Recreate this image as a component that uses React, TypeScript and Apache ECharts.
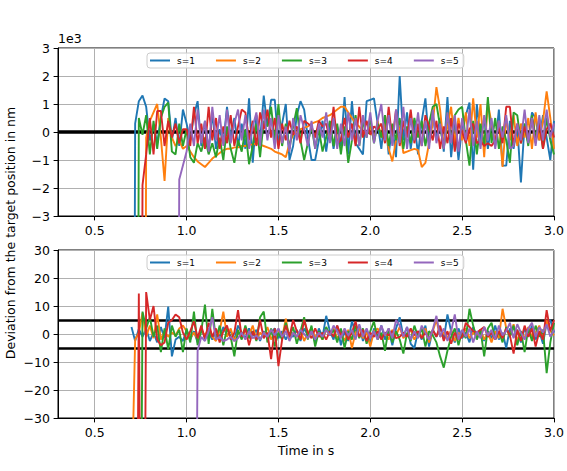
import React, { useEffect, useRef } from "react";
import * as echarts from "echarts";

// sample times (s): 0.70 ... 3.00 in 0.02 s steps
const T_START = 0.7;
const T_STEP = 0.02;
const N = 116;
const TIME: number[] = [];
for (let i = 0; i < N; i++) TIME.push(+(T_START + T_STEP * i).toFixed(2));

const NAMES = ["s=1", "s=2", "s=3", "s=4", "s=5"];
const COLORS = ["#1f77b4", "#ff7f0e", "#2ca02c", "#d62728", "#9467bd"];
const X_TICKS = [0.5, 1.0, 1.5, 2.0, 2.5, 3.0];
const TOP_REF = [0];
const BOTTOM_REF = [5, -5];

// top panel: deviation in units of 1e3 nm
const TOP_S1 = [
  -40, 0.3, 1.1, 1.3, 0.9, -0.3, 0.2, -0.4, 0.5, 1.2,
  1.1, -0.3, 0.5, -0.5, 0.8, 0.3, -0.3, 0.6, 1.1, -0.5,
  0.4, -0.7, 0.7, -0.6, 0.1, -0.4, 0.9, -0.2, 0.5, -0.5,
  0.3, -0.6, 1.2, -1.1, 0.6, -0.3, 1.3, 0.2, 1.15, 1.15,
  -0.4, 0.3, 1.0, -1.0, -0.5, 0.6, 1.1, 0.8, -0.2, -1.0,
  -1.0, -0.3, 0.4, -0.7, 0.3, -0.6, 0.2, -0.5, 1.25, -0.8,
  1.1, -0.4, -0.6, -0.8, 1.1, 1.15, 1.2, 0.3, -0.6, 0.6,
  -0.8, 0.2, -0.9, 2.0, -0.3, 0.7, -0.6, 0.3, -0.8, 0.4,
  1.2, -0.4, 0.6, -0.3, 0.5, -0.7, 1.25, -0.9, 0.4, -1.0,
  0.2, 0.6, 1.05, -1.35, 1.0, -0.3, 0.5, -0.6, 0.3, -0.5,
  0.8, -1.2, -1.2, 0.4, -0.6, 0.2, -1.8, 0.3, -0.4, 0.7,
  0.5, -0.3, 0.6, -0.2, -1.0, 0.4,
];
const TOP_S2 = [
  null, null, null, -40, -0.2, 0.4, 0.7, 1.0, -0.2, -1.75,
  0.5, -0.2, -0.5, -0.3, -0.6, -0.5, -0.7, -0.9, -1.05, -1.15,
  -1.25, -1.1, -0.95, -0.85, -0.75, -0.65, -0.6, -0.6, -0.55, -0.55,
  -0.5, -0.5, -0.45, -0.45, -0.4, -0.45, -0.5, -0.55, -0.6, -0.7,
  -0.75, -0.8, -0.9, -0.4, -0.1, 0.0, 0.1, 0.15, 0.2, 0.3,
  0.35, 0.4, 0.5, 0.55, 0.6, 0.7, 0.8, 0.9, 0.9, 0.7,
  0.5, 0.3, 0.2, 0.0, -0.1, 0.2, -0.3, 0.4, -0.2, 0.3,
  -0.6, -1.05, -0.3, 0.2, -0.75, -0.7, -0.65, -0.6, -0.65, -1.25,
  -1.1, -0.4, 0.3, 1.6, 0.8, -0.5, 0.2, 0.9, -0.4, 0.5,
  -0.3, 0.7, -0.5, 1.2, -0.2, 1.0, -0.9, 1.05, 0.3, -0.4,
  0.4, -1.25, 0.5, -0.3, 0.6, -0.5, 0.3, -0.2, 0.5, -0.6,
  0.7, -0.3, 0.4, 1.45, 0.5, -0.6,
];
const TOP_S3 = [
  null, -40, 0.5, -0.1, 0.6, -0.8, 0.4, -0.6, 0.5, 0.9,
  1.05, -0.7, -0.8, 0.3, -0.5, 0.1, -0.9, -1.1, -0.4, -0.7,
  -0.2, -0.8, -0.4, -0.9, -0.2, -1.0, 0.2, -0.6, -1.1, -0.3,
  -0.7, 0.1, -1.15, -0.5, 0.3, -0.9, 0.4, 0.2, 0.9, -0.3,
  1.0, -0.5, 0.3, -0.6, 0.2, 0.85, -0.3, -1.0, -0.4, 0.2,
  -0.6, 0.1, -0.7, -0.2, 0.4, -0.5, 0.3, -0.8, 0.2, -1.1,
  -0.3, 0.6, -0.5, 0.4, -0.2, 0.5, -0.4, 0.3, -0.2, 0.6,
  -0.5, 0.3, -0.3, 0.5, -0.6, 0.2, -0.4, 0.5, -0.2, 0.4,
  -0.5, 0.3, 0.9, 1.0, 0.2, -0.6, 0.7, -0.3, 0.6, 0.8,
  0.9, -0.3, -1.2, 0.4, -0.8, 0.3, -0.5, 1.25, -0.4, 0.5,
  -0.6, 0.2, -0.3, -1.1, 0.7, 0.6, -0.4, 0.3, -0.5, 0.6,
  -0.2, 0.4, -0.6, 0.5, -0.3, -0.8,
];
const TOP_S4 = [
  null, null, -40, -1.9, -0.8, 0.5, -0.8, 0.75, 0.75, -0.5,
  0.4, -0.2, 0.3, -0.4, 0.1, 0.1, -0.5, 0.9, -0.4, 0.3,
  -0.6, 0.9, -0.3, 0.5, -0.6, 0.2, -0.4, 0.6, -0.5, 0.2,
  0.8, 0.7, -0.3, 0.4, -0.5, 0.7, 0.1, 0.8, -0.2, 0.5,
  -0.6, 0.3, -0.3, 0.4, -0.1, 0.2, -0.4, 0.4, 0.3, 0.2,
  -0.2, 0.4, 0.2, 0.3, -0.3, 0.9, -0.4, -0.3, 0.5, -0.2,
  0.3, -0.5, 0.9, -0.2, 0.4, -0.1, 0.2, 0.1, 0.3, -0.4,
  0.9, -0.3, 0.8, -0.5, 0.4, -0.2, 0.8, -0.4, 0.3, -0.5,
  0.6, 0.2, -0.3, 0.4, -0.6, 0.2, -0.4, 0.5, -0.7, 0.3,
  0.0, -0.4, 0.1, 0.3, -0.4, -0.3, -0.5, -0.4, -0.5, -0.3,
  0.2, -0.4, 0.9, 0.9, -0.5, 0.3, -0.4, 0.2, -0.3, 0.5,
  -0.4, 0.3, -0.6, 0.1, 0.3, -0.2,
];
const TOP_S5 = [
  null, null, null, null, null, null, null, null, null, null,
  null, null, -40, -1.7, -1.2, -0.7, 0.3, -0.5, 0.8, -0.4,
  0.4, -0.7, 0.9, -0.3, 0.6, -0.5, 0.8, -0.4, 0.3, 0.8,
  -0.3, 0.6, -0.6, 0.2, 0.7, -0.5, 0.8, -0.3, 0.5, -0.6,
  0.6, -0.4, 0.2, -0.7, 0.5, -0.3, 0.6, 0.1, -0.5, 0.4,
  -0.6, 0.3, -0.2, 0.7, -0.4, 0.5, -0.6, 0.3, -0.5, 0.7,
  -0.3, 0.5, -0.5, 0.6, -0.2, 0.7, -0.4, 0.4, 1.0, -0.3,
  0.6, -0.5, 0.8, -0.4, 0.9, -0.6, 0.5, -0.3, 0.7, -0.5,
  0.4, -0.6, 0.8, -0.4, 0.3, -0.6, 0.7, -0.4, 0.6, -0.7,
  0.5, -0.3, 0.8, -0.5, 0.4, -0.6, 0.6, -0.3, 0.5, -0.6,
  0.4, -0.2, 0.6, -0.6, -0.5, 0.3, -0.3, 0.8, -0.4, 0.5,
  -0.5, 0.6, -0.3, 0.8, -0.2, 0.3,
];

// bottom panel: deviation in nm
const BOT_S1 = [
  2.5, -2.5, 1.8, -1.0, 2.0, -2.5, 0.5, -3.0, 2.5, -1.5,
  9.8, -8.0, -2.0, -1.0, -2.5, 1.5, -2.0, 1.0, -3.0, 2.0,
  -1.5, 0.5, -2.0, 1.5, -1.0, 2.5, -0.5, 1.0, -2.0, 3.0,
  0.5, -1.5, 2.0, -0.5, 1.5, -2.5, 1.0, -1.0, 0.5, 2.0,
  -1.5, 1.0, -2.0, 0.5, -1.0, 1.5, -2.5, 2.0, -0.5, 1.0,
  -3.0, 2.0, -1.0, 6.5, 1.0, -2.0, 3.0, -4.0, 1.0, -2.5,
  4.5, 0.5, 3.0, -2.5, 1.5, -3.5, 2.0, -1.0, 3.0, -2.0,
  1.5, -4.0, 2.0, 6.0, -1.0, 2.5, -3.5, -5.0, 1.0, -2.0,
  3.0, -4.5, 1.5, -1.0, 2.5, -2.0, 7.0, 1.0, -3.0, 2.0,
  -1.5, 0.5, -3.0, 2.5, -1.0, 1.5, -2.5, 1.0, -1.5, 3.0,
  -2.0, 0.5, -5.0, 2.0, -1.0, 1.5, -3.0, 2.0, -1.0, 3.0,
  -2.0, 1.0, -3.5, 4.0, 5.0, 0.5,
];
const BOT_S2 = [
  -60, -2.0, 0.5, 7.5, -1.0, 3.0, -1.5, 7.0, -2.0, 1.0,
  -1.0, 0.5, -0.5, 2.0, 3.0, 1.0, -1.5, 0.5, -2.0, 1.5,
  -0.5, 2.0, -1.0, -2.5, 1.0, 8.0, -1.0, 2.0, -2.5, 0.5,
  -1.5, 1.5, -0.5, 3.0, -2.0, 0.5, -1.0, 2.5, -2.0, 0.5,
  1.5, -1.5, 5.5, -2.0, 0.5, -1.0, 1.5, -2.5, 0.5, 2.0,
  -1.0, 0.0, -2.0, 1.5, -0.5, 2.0, -1.5, 0.5, -2.5, 1.5,
  -5.0, 0.5, 2.0, -1.5, 0.5, -4.5, 1.0, 2.0, -1.0, 0.5,
  -2.0, 1.5, -0.5, 2.5, -1.5, 0.0, 1.5, -2.0, 0.5, -1.0,
  2.0, -3.0, 1.0, 5.0, -1.0, 0.5, -1.5, 1.5, -2.5, 0.5,
  -1.0, 2.0, -1.5, 0.5, -1.0, 1.5, -2.0, 0.5, -3.0, 1.0,
  -1.5, 9.0, 2.0, -1.0, 3.5, -2.5, 1.0, -1.5, 2.5, -1.0,
  0.5, 3.0, -2.0, 5.0, 1.0, -0.5,
];
const BOT_S3 = [
  null, null, -200, 8.0, 2.0, 6.0, -1.0, 3.0, -6.5, 2.0,
  -5.5, 3.0, -1.0, 1.5, -6.5, 2.0, -3.0, 8.0, -4.0, 1.0,
  10.5, -3.5, 9.0, -2.0, 3.0, -4.0, 2.0, -1.0, -8.0, 1.5,
  -2.0, 3.0, -1.5, 1.0, -2.5, 6.0, 8.0, -3.0, 2.0, -4.5,
  0.5, -2.0, 4.0, -1.0, 2.5, -3.5, 1.0, 6.0, -2.0, 3.0,
  -4.5, 1.0, -2.0, 2.5, -0.5, 1.5, -3.0, 2.0, -5.0, 1.0,
  -2.0, 3.0, -1.5, 2.0, -3.5, 1.0, 4.5, -2.0, 0.5, -6.0,
  2.0, -3.0, 1.0, -2.0, -7.0, 0.5, -2.5, 3.0, -1.0, 2.0,
  -4.5, 1.0, -0.5, -3.0, -8.0, -12.0, -6.0, -1.0, 2.0, -4.0,
  1.0, -1.5, 9.0, 3.0, -2.0, 1.5, -8.0, 2.0, 4.0, -2.0,
  1.0, -3.0, 2.5, -1.0, 3.0, -4.0, 1.0, -6.5, 2.0, -2.5,
  3.0, -1.0, 1.5, -14.0, -3.0, 4.0,
];
const BOT_S4 = [
  null, -200, 14.5, -200, 15.0, 5.0, 10.0, -2.0, -4.0, -3.0,
  4.0, 5.0, 7.0, 6.0, 0.5, -2.0, 1.0, 4.5, -1.5, 3.0,
  -2.0, 4.0, -1.0, 2.0, -3.0, 1.0, 3.0, -2.0, 0.5, 8.5,
  -1.0, 2.0, -4.0, 1.0, -2.0, 5.0, -1.5, 0.5, -9.0, 2.0,
  -11.5, -2.0, 3.0, -1.0, 5.0, 1.0, -2.0, 5.0, 0.5, -1.5,
  2.0, -1.0, 0.5, -2.0, 1.0, -1.0, 3.0, -0.5, 1.5, -2.0,
  0.5, 4.5, -1.0, 1.5, -2.5, 0.5, -1.0, 1.0, -2.0, 0.5,
  -0.5, 1.0, -1.5, -1.0, 0.5, -1.0, 2.0, -0.5, 1.0, -1.5,
  0.5, -2.0, 1.5, -1.0, 3.0, -2.5, 1.0, -3.5, 0.5, -2.0,
  -1.0, 4.0, 2.5, 1.0, 0.5, 1.5, 2.5, -1.0, 0.5, -2.0,
  1.0, -1.5, 2.0, -0.5, -7.0, 1.5, -2.5, 3.0, -1.0, 2.0,
  -4.5, 1.0, -2.0, 8.5, 1.0, 5.0,
];
const BOT_S5 = [
  null, null, null, null, null, null, null, null, null, null,
  null, null, null, null, null, null, null, -200, -6.0, -1.0,
  -2.5, 1.0, 6.0, -2.0, -1.0, -2.5, -2.0, -1.0, -2.5, -1.5,
  0.5, -2.0, 1.0, -1.5, -0.5, -2.0, 0.5, -1.0, 1.5, -0.5,
  2.0, -1.0, 1.0, -2.5, 0.5, -1.0, 1.5, 0.0, -1.5, 1.0,
  -2.0, 0.5, -1.0, 1.5, -0.5, 3.0, 1.0, -1.5, 2.0, -0.5,
  1.5, -2.0, 3.5, -1.0, 2.0, -1.5, 1.0, -2.0, 3.0, -0.5,
  2.0, -1.5, 5.0, 3.0, -1.0, 2.5, -2.0, 1.0, -1.5, 3.0,
  0.5, -2.0, 1.5, 6.5, -1.0, 2.0, -2.5, 1.0, 7.0, -2.0,
  1.5, -1.0, 2.0, -3.0, 1.0, -1.5, 2.5, -0.5, 1.5, -2.0,
  3.0, -0.5, 1.0, 4.0, -1.5, 3.5, 0.5, -2.0, 2.0, 4.0,
  -1.0, 2.5, 0.5, 3.5, -1.0, 1.5,
];

const TOP_SERIES = [TOP_S1, TOP_S2, TOP_S3, TOP_S4, TOP_S5];
const BOT_SERIES = [BOT_S1, BOT_S2, BOT_S3, BOT_S4, BOT_S5];

const FONT = "DejaVu Sans";

const fmtNum = (v: number, dec: number) => {
  const s = Math.abs(v).toFixed(dec);
  return v < 0 ? "\u2212" + s : s;
};

export default function App() {
  const ref = useRef<HTMLDivElement>(null);
  useEffect(() => {
    if (!ref.current) return;
    const chart = echarts.init(ref.current, null, { renderer: "svg" });

    const xAxisBase = (gridIndex: number, withName: boolean) => ({
      type: "value",
      gridIndex,
      min: 0.3,
      max: 3.0,
      minInterval: 0.5,
      maxInterval: 0.5,
      name: withName ? "Time in s" : "",
      nameLocation: "middle",
      nameGap: 26,
      nameTextStyle: { fontFamily: FONT, fontSize: 12.5, color: "#000" },
      axisLine: { show: true, onZero: false, lineStyle: { color: "#000", width: 1 } },
      axisTick: {
        show: true,
        length: 4.4,
        lineStyle: { color: "#000", width: 1 },
        customValues: X_TICKS,
      },
      axisLabel: {
        margin: 8,
        fontFamily: FONT,
        fontSize: 12.5,
        color: "#000",
        customValues: X_TICKS,
        formatter: (v: number) => fmtNum(v, 1),
      },
      splitLine: { show: true, lineStyle: { color: "#b0b0b0", width: 1 } },
    });

    const yAxisBase = (gridIndex: number, min: number, max: number, interval: number, name: string) => ({
      type: "value",
      gridIndex,
      min,
      max,
      interval,
      name,
      nameLocation: "end",
      nameGap: 3,
      nameTextStyle: { fontFamily: FONT, fontSize: 12.5, color: "#000", align: "left" },
      axisLine: { show: true, onZero: false, lineStyle: { color: "#000", width: 1 } },
      axisTick: { show: true, length: 4.4, lineStyle: { color: "#000", width: 1 } },
      axisLabel: {
        margin: 8,
        fontFamily: FONT,
        fontSize: 12.5,
        color: "#000",
        formatter: (v: number) => fmtNum(v, 0),
      },
      splitLine: { show: true, lineStyle: { color: "#b0b0b0", width: 1 } },
    });

    const makeSeries = (vals: (number | null)[], k: number, panel: number) => ({
      type: "line",
      name: NAMES[k],
      xAxisIndex: panel,
      yAxisIndex: panel,
      data: TIME.map((t, i) => [t, vals[i] == null ? "-" : vals[i]]),
      showSymbol: false,
      symbol: "none",
      clip: true,
      z: 3,
      lineStyle: { color: COLORS[k], width: 1.9 },
      itemStyle: { color: COLORS[k] },
      emphasis: { disabled: true },
    });

    const series: any[] = [];
    TOP_SERIES.forEach((v, k) => series.push(makeSeries(v, k, 0)));
    BOT_SERIES.forEach((v, k) => series.push(makeSeries(v, k, 1)));

    series[0].markLine = {
      silent: true,
      z: 2,
      symbol: ["none", "none"],
      label: { show: false },
      lineStyle: { color: "#000", width: 3.5, type: "solid" },
      emphasis: { disabled: true },
      data: TOP_REF.map((y) => ({ yAxis: y })),
    };
    series[5].markLine = {
      silent: true,
      z: 2,
      symbol: ["none", "none"],
      label: { show: false },
      lineStyle: { color: "#000", width: 2.5, type: "solid" },
      emphasis: { disabled: true },
      data: BOTTOM_REF.map((y) => ({ yAxis: y })),
    };

    const legendBase = (top: number) => ({
      data: NAMES,
      left: 147,
      top,
      orient: "horizontal",
      icon: "rect",
      itemWidth: 20,
      itemHeight: 2,
      itemGap: 21,
      padding: [3, 5, 3, 3],
      borderColor: "#cccccc",
      borderWidth: 1,
      borderRadius: 3,
      backgroundColor: "rgba(255,255,255,0.8)",
      selectedMode: false,
      textStyle: { fontFamily: FONT, fontSize: 9, color: "#000", padding: [0, 0, 0, 2] },
      z: 10,
    });

    chart.setOption({
      animation: false,
      backgroundColor: "#fff",
      grid: [
        { left: 58, right: 13, top: 48, height: 168, show: true, borderColor: "#000", borderWidth: 1, containLabel: false },
        { left: 58, right: 13, top: 250, height: 168, show: true, borderColor: "#000", borderWidth: 1, containLabel: false },
      ],
      xAxis: [xAxisBase(0, false), xAxisBase(1, true)],
      yAxis: [yAxisBase(0, -3, 3, 1, "1e3"), yAxisBase(1, -30, 30, 10, "")],
      legend: [legendBase(53), legendBase(255)],
      graphic: [
        {
          type: "text",
          x: 10,
          y: 233,
          rotation: Math.PI / 2,
          style: {
            text: "Deviation from the target position in nm",
            fontFamily: FONT,
            fontSize: 12.5,
            fill: "#000",
            align: "center",
            verticalAlign: "middle",
          },
        },
      ],
      series,
    });

    return () => chart.dispose();
  }, []);

  return (
    <div
      ref={ref}
      style={{ position: "fixed", left: 0, top: 0, width: 567, height: 471 }}
    />
  );
}
